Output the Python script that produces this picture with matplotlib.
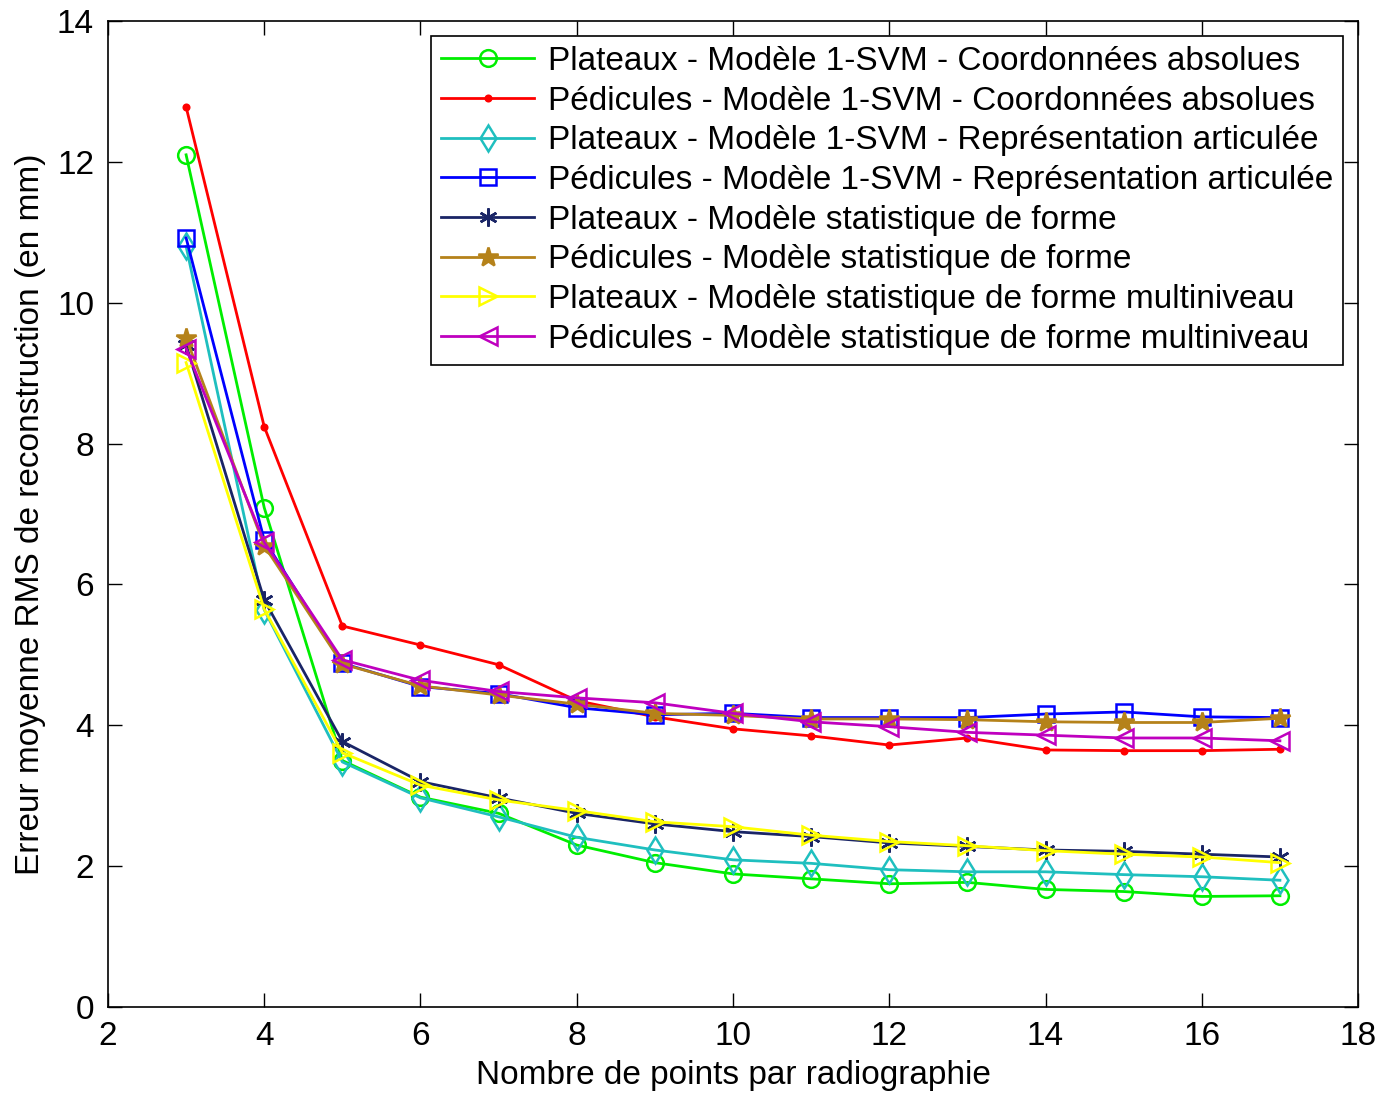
import matplotlib
matplotlib.use("Agg")
import matplotlib.pyplot as plt

plt.rcParams['font.family'] = ['Liberation Sans', 'DejaVu Sans']

points = list(range(3, 18))

plateaux_svm_abs = [12.10, 7.09, 3.50, 2.98, 2.75, 2.30, 2.05, 1.89, 1.82, 1.75, 1.77, 1.67, 1.64, 1.57, 1.58]
pedicules_svm_abs = [12.78, 8.24, 5.41, 5.14, 4.86, 4.35, 4.12, 3.95, 3.85, 3.72, 3.82, 3.65, 3.64, 3.64, 3.66]
plateaux_svm_art = [10.80, 5.64, 3.48, 2.97, 2.70, 2.41, 2.23, 2.09, 2.04, 1.95, 1.92, 1.92, 1.88, 1.85, 1.80]
pedicules_svm_art = [10.92, 6.63, 4.88, 4.55, 4.45, 4.25, 4.15, 4.17, 4.11, 4.11, 4.11, 4.16, 4.19, 4.12, 4.11]
plateaux_ssm = [9.40, 5.78, 3.77, 3.20, 2.97, 2.75, 2.60, 2.49, 2.42, 2.33, 2.28, 2.23, 2.21, 2.17, 2.13]
pedicules_ssm = [9.50, 6.55, 4.87, 4.56, 4.43, 4.30, 4.17, 4.14, 4.09, 4.09, 4.08, 4.05, 4.04, 4.04, 4.10]
plateaux_ssm_multi = [9.15, 5.65, 3.61, 3.15, 2.94, 2.79, 2.63, 2.56, 2.44, 2.35, 2.29, 2.22, 2.17, 2.13, 2.05]
pedicules_ssm_multi = [9.35, 6.60, 4.93, 4.64, 4.48, 4.39, 4.32, 4.17, 4.05, 3.98, 3.90, 3.86, 3.82, 3.82, 3.78]

labels = [
    "Plateaux - Modèle 1-SVM - Coordonnées absolues",
    "Pédicules - Modèle 1-SVM - Coordonnées absolues",
    "Plateaux - Modèle 1-SVM - Représentation articulée",
    "Pédicules - Modèle 1-SVM - Représentation articulée",
    "Plateaux - Modèle statistique de forme",
    "Pédicules - Modèle statistique de forme",
    "Plateaux - Modèle statistique de forme multiniveau",
    "Pédicules - Modèle statistique de forme multiniveau",
]

series = [
    (plateaux_svm_abs, '#00ee00', 'o', 12, 'none'),
    (pedicules_svm_abs, '#ff0000', '.', 8, None),
    (plateaux_svm_art, '#1fbfbf', 'd', 13, 'none'),
    (pedicules_svm_art, '#0000ff', 's', 11, 'none'),
    (plateaux_ssm, '#1a2566', (6, 2, 0), 13, None),
    (pedicules_ssm, '#b5821a', '*', 15, None),
    (plateaux_ssm_multi, '#ffff00', '>', 13, 'none'),
    (pedicules_ssm_multi, '#bf00bf', '<', 13, 'none'),
]

fig = plt.figure(figsize=(13.79, 10.94), dpi=100)
ax = fig.add_axes([0.0783, 0.0795, 0.9065, 0.9013])

for (vals, color, marker, ms, mfc), lab in zip(series, labels):
    kw = dict(color=color, marker=marker, markersize=ms, linewidth=2.0,
              markeredgewidth=1.8, label=lab)
    if mfc is not None:
        kw['markerfacecolor'] = mfc
    ax.plot(points, vals, **kw)

ax.set_xlim(2, 18)
ax.set_ylim(0, 14)
ax.set_xticks(range(2, 19, 2))
ax.set_yticks(range(0, 15, 2))
ax.tick_params(direction='in', length=10, width=1, labelsize=24,
               top=True, right=True, pad=10)
for s in ax.spines.values():
    s.set_linewidth(1.2)

ax.set_xlabel("Nombre de points par radiographie", fontsize=24, labelpad=6)
ax.set_ylabel("Erreur moyenne RMS de reconstruction (en mm)", fontsize=24, labelpad=8)

leg = ax.legend(loc='upper right', fontsize=24, frameon=True, fancybox=False,
                edgecolor='black', framealpha=1, handlelength=2.8,
                labelspacing=0.26, borderpad=0.3, handletextpad=0.4,
                borderaxespad=0.45)
leg.get_frame().set_linewidth(1.2)

fig.savefig("out.png", dpi=100)
